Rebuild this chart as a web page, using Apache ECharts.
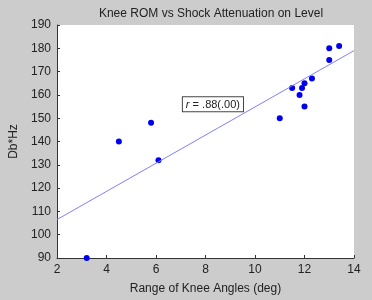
<!DOCTYPE html>
<html>
<head>
<meta charset="utf-8">
<script src="https://cdn.jsdelivr.net/npm/echarts@6/dist/echarts.min.js"></script>
<style>
  html, body { margin: 0; padding: 0; background: #cccccc; }
  #container1 { width: 372px; height: 300px; }
</style>
</head>
<body>
<div id="container1"></div>
<script>
// data
var romDeg = [3.2, 4.5, 5.8, 6.1, 11.0, 11.5, 11.8, 11.9, 12.0, 12.0, 12.3, 13.0, 13.0, 13.4];
var shockDbHz = [90, 140, 148, 132, 150, 163, 160, 163, 165, 155, 167, 175, 180, 181];
var fitX = [2, 14];
var fitY = [106.5, 179];
var xTicks = [2, 4, 6, 8, 10, 12, 14];
var yTicks = [90, 100, 110, 120, 130, 140, 150, 160, 170, 180, 190];
var rText = '.88(.00)';
var rPos = [8.3, 156];

var pts = romDeg.map(function (x, i) { return [x, shockDbHz[i]]; });
var fit = fitX.map(function (x, i) { return [x, fitY[i]]; });

var myChart = echarts.init(document.getElementById('container1'));
var font = 'Liberation Sans, Arial, sans-serif';
var option = {
    backgroundColor: '#cccccc',
    animation: false,
    title: {
        text: 'Knee ROM vs Shock Attenuation on Level',
        left: 206,
        textAlign: 'center',
        top: 3,
        textStyle: { fontFamily: font, fontSize: 12, fontWeight: 'normal', color: '#222' }
    },
    grid: {
        left: 57, right: 18, top: 25, bottom: 39,
        show: true, backgroundColor: '#ffffff', borderWidth: 0
    },
    xAxis: {
        type: 'value',
        min: xTicks[0], max: xTicks[xTicks.length - 1], interval: 2,
        name: 'Range of Knee Angles (deg)',
        nameLocation: 'middle', nameGap: 25,
        nameTextStyle: { fontFamily: font, fontSize: 12, color: '#222' },
        axisLine: { show: true, lineStyle: { color: '#333', width: 1 } },
        axisTick: { show: true, inside: true, length: 3, lineStyle: { color: '#333' } },
        axisLabel: { fontFamily: font, fontSize: 12, color: '#222', margin: 6 },
        splitLine: { show: false }
    },
    yAxis: {
        type: 'value',
        min: yTicks[0], max: yTicks[yTicks.length - 1], interval: 10,
        name: 'Db*Hz',
        nameLocation: 'middle', nameGap: 31, nameRotate: 90,
        nameTextStyle: { fontFamily: font, fontSize: 12, color: '#222' },
        axisLine: { show: true, lineStyle: { color: '#333', width: 1 } },
        axisTick: { show: true, inside: true, length: 3, lineStyle: { color: '#333' } },
        axisLabel: { fontFamily: font, fontSize: 12, color: '#222', margin: 6 },
        splitLine: { show: false }
    },
    series: [
        {
            type: 'line',
            data: fit,
            symbol: 'none',
            lineStyle: { color: '#8080ff', width: 1 },
            silent: true
        },
        {
            type: 'scatter',
            data: pts,
            symbol: 'circle',
            symbolSize: 6,
            itemStyle: { color: '#0000ee', opacity: 1 }
        }
    ]
};
myChart.setOption(option, true);

// r annotation box, placed in data coordinates
var p = myChart.convertToPixel({ gridIndex: 0 }, rPos);
myChart.setOption({
    graphic: [{
        type: 'text',
        x: p[0], y: p[1],
        style: {
            text: '{i|r} = ' + rText,
            align: 'center', verticalAlign: 'middle',
            fontFamily: font, fontSize: 11, fill: '#222',
            backgroundColor: '#fff', borderColor: '#444', borderWidth: 1,
            padding: [2, 3, 1, 3],
            rich: { i: { fontStyle: 'italic', fontFamily: font, fontSize: 11 } }
        }
    }]
});
</script>
</body>
</html>
